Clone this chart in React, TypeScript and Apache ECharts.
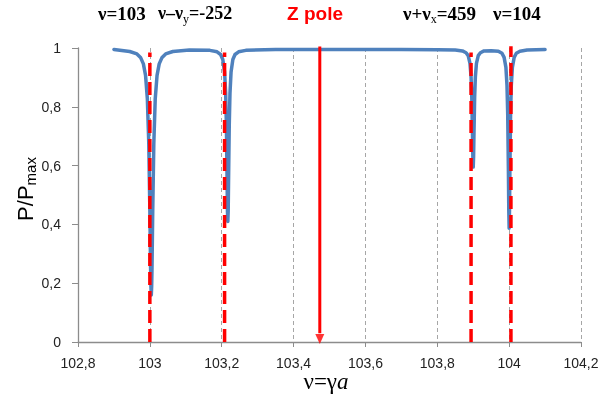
import React, { useEffect, useRef } from "react";
import * as echarts from "echarts";

// Blue curve: P/Pmax versus nu = gamma*a
const curveX = [
  102.9,
  102.944, 102.964, 102.974, 102.982, 102.988, 102.993, 102.997, 103.0, 103.002, 103.003,
  103.004,
  103.005, 103.006, 103.008, 103.011, 103.015, 103.02, 103.026, 103.034, 103.044, 103.064,
  103.11,
  103.167, 103.187, 103.197, 103.203, 103.208, 103.211, 103.213, 103.215, 103.216,
  103.217,
  103.218, 103.219, 103.221, 103.223, 103.226, 103.231, 103.237, 103.247, 103.267,
  103.35, 103.5, 103.7, 103.8,
  103.85, 103.87, 103.88, 103.886, 103.891, 103.894, 103.896, 103.898, 103.899,
  103.9,
  103.901, 103.902, 103.904, 103.906, 103.909, 103.914, 103.92, 103.93,
  103.95,
  103.97, 103.98, 103.986, 103.991, 103.994, 103.996, 103.998, 103.999,
  104.0,
  104.001, 104.002, 104.004, 104.006, 104.009, 104.014, 104.02, 104.03, 104.05,
  104.1,
];
const curveY = [
  0.995,
  0.988, 0.98, 0.968, 0.946, 0.907, 0.828, 0.675, 0.446, 0.252, 0.188,
  0.16,
  0.188, 0.252, 0.446, 0.675, 0.828, 0.907, 0.946, 0.968, 0.98, 0.988,
  0.993,
  0.992, 0.987, 0.978, 0.961, 0.918, 0.846, 0.739, 0.547, 0.444,
  0.41,
  0.444, 0.547, 0.739, 0.846, 0.918, 0.961, 0.978, 0.987, 0.992,
  0.995, 0.995, 0.995, 0.994,
  0.993, 0.99, 0.984, 0.974, 0.948, 0.902, 0.833, 0.702, 0.629,
  0.595,
  0.629, 0.702, 0.833, 0.902, 0.948, 0.974, 0.984, 0.99,
  0.991,
  0.989, 0.982, 0.968, 0.934, 0.873, 0.776, 0.574, 0.448,
  0.387,
  0.448, 0.574, 0.776, 0.873, 0.934, 0.968, 0.982, 0.989, 0.993,
  0.995,
];

// Red dashed resonance lines
const resonanceX = [103.0, 103.208, 103.894, 104.005];
const resonanceTop = [0.985, 0.985, 0.985, 1.01];

// Z pole arrow
const zPoleX = 103.473;
const zPoleTop = 1.01;
const zPoleShaftEnd = 0.03;
const zPoleHead = 0.01;

// Axis settings
const xMin = 102.8;
const xMax = 104.2;
const xStep = 0.2;
const yMin = 0;
const yMax = 1;
const yStep = 0.2;

const fmt = (v: number) => {
  const r = Math.round(v * 10) / 10;
  return String(r).replace(".", ",");
};

export default function App() {
  const ref = useRef<HTMLDivElement>(null);

  useEffect(() => {
    if (!ref.current) return;
    const chart = echarts.init(ref.current, undefined, { renderer: "svg" });

    const serif = "'Liberation Serif', 'Times New Roman', serif";
    const sans = "'Liberation Sans', Arial, sans-serif";
    const makeRich = (size: number) => ({
      a: { fontFamily: serif, fontSize: size, fontWeight: "bold", color: "#000" },
      s: {
        fontFamily: serif,
        fontSize: 12,
        fontWeight: "normal",
        color: "#000",
        padding: [12, 0, 0, 0],
      },
    });
    const topRich = makeRich(19);
    const narrowRich = makeRich(18);

    const redSeries = resonanceX.map((x, i) => ({
      type: "line",
      data: [
        [x, 0],
        [x, resonanceTop[i]],
      ],
      symbol: "none",
      silent: true,
      z: 5,
      lineStyle: { color: "#ff0000", width: 3.5, type: [13, 6] },
    }));

    chart.setOption({
      animation: false,
      grid: { left: 78, right: 26, top: 48, bottom: 53, containLabel: false },
      xAxis: {
        type: "value",
        min: xMin,
        max: xMax,
        interval: xStep,
        axisLine: { lineStyle: { color: "#8c8c8c", width: 1.3 } },
        axisTick: { show: true, length: 5, lineStyle: { color: "#8c8c8c" } },
        axisLabel: {
          formatter: fmt,
          margin: 14,
          fontFamily: sans,
          fontSize: 14,
          color: "#222",
        },
        splitLine: {
          show: true,
          lineStyle: { color: "#a6a6a6", type: [4, 3], width: 1 },
        },
      },
      yAxis: {
        type: "value",
        min: yMin,
        max: yMax,
        interval: yStep,
        axisLine: { show: true, lineStyle: { color: "#8c8c8c", width: 1.3 } },
        axisTick: { show: true, length: 6, lineStyle: { color: "#8c8c8c" } },
        axisLabel: {
          formatter: fmt,
          margin: 17,
          fontFamily: sans,
          fontSize: 14,
          color: "#222",
        },
        splitLine: { show: false },
      },
      series: [
        {
          type: "line",
          data: curveX.map((x, i) => [x, curveY[i]]),
          symbol: "none",
          z: 3,
          lineStyle: { color: "#4f81bd", width: 3.5, join: "round", cap: "round" },
        },
        ...redSeries,
        {
          type: "line",
          data: [
            [zPoleX, zPoleTop],
            [zPoleX, zPoleShaftEnd],
          ],
          symbol: "none",
          silent: true,
          z: 6,
          lineStyle: { color: "#ff0000", width: 3, type: "solid" },
        },
        {
          type: "scatter",
          data: [[zPoleX, zPoleHead]],
          symbol: "triangle",
          symbolRotate: 180,
          symbolSize: [9, 10],
          clip: false,
          silent: true,
          z: 6,
          itemStyle: { color: "#ff0000" },
        },
      ],
      graphic: [
        {
          type: "text",
          x: 98,
          y: 13,
          style: {
            text: "{a|ν=103}",
            rich: topRich,
            textAlign: "left",
            textVerticalAlign: "middle",
            align: "left",
            verticalAlign: "middle",
          },
        },
        {
          type: "text",
          x: 158,
          y: 13,
          style: {
            text: "{a|ν–ν}{s|y}{a|=-252}",
            rich: narrowRich,
            textAlign: "left",
            textVerticalAlign: "middle",
            align: "left",
            verticalAlign: "middle",
          },
        },
        {
          type: "text",
          x: 315,
          y: 13,
          style: {
            text: "Z pole",
            fontFamily: sans,
            fontSize: 19,
            fontWeight: "bold",
            fill: "#ff0000",
            textAlign: "center",
            textVerticalAlign: "middle",
            align: "center",
            verticalAlign: "middle",
          },
        },
        {
          type: "text",
          x: 403,
          y: 13,
          style: {
            text: "{a|ν+ν}{s|x}{a|=459}",
            rich: topRich,
            textAlign: "left",
            textVerticalAlign: "middle",
            align: "left",
            verticalAlign: "middle",
          },
        },
        {
          type: "text",
          x: 493,
          y: 13,
          style: {
            text: "{a|ν=104}",
            rich: topRich,
            textAlign: "left",
            textVerticalAlign: "middle",
            align: "left",
            verticalAlign: "middle",
          },
        },
        {
          type: "text",
          x: 25,
          y: 189,
          rotation: Math.PI / 2,
          style: {
            text: "{a|P/P}{s|max}",
            rich: {
              a: { fontFamily: sans, fontSize: 22, color: "#222" },
              s: { fontFamily: sans, fontSize: 15, color: "#222", padding: [11, 0, 0, 0] },
            },
            textAlign: "center",
            textVerticalAlign: "middle",
            align: "center",
            verticalAlign: "middle",
          },
        },
        {
          type: "text",
          x: 326,
          y: 381,
          style: {
            text: "{a|ν=γ}{b|a}",
            rich: {
              a: { fontFamily: serif, fontSize: 23, color: "#222" },
              b: { fontFamily: serif, fontSize: 23, fontStyle: "italic", color: "#222" },
            },
            textAlign: "center",
            textVerticalAlign: "middle",
            align: "center",
            verticalAlign: "middle",
          },
        },
      ],
    });

    return () => chart.dispose();
  }, []);

  return (
    <div
      ref={ref}
      style={{ position: "fixed", left: 0, top: 0, width: 607, height: 395 }}
    />
  );
}
